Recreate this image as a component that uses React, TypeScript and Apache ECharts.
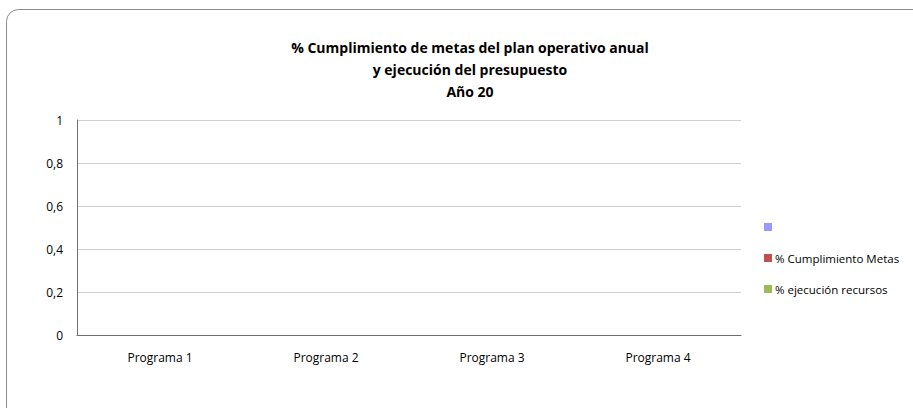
import React, { useEffect, useRef } from "react";
import * as echarts from "echarts";

const categories = ["Programa 1", "Programa 2", "Programa 3", "Programa 4"];
const seriesNames = [" ", "% Cumplimiento Metas", "% ejecución recursos"];
const seriesColors = ["#9999FF", "#C0504D", "#9BBB59"];
const serie0 = [0, 0, 0, 0];
const cumplimientoMetas = [0, 0, 0, 0];
const ejecucionRecursos = [0, 0, 0, 0];
const titleLines = [
  "% Cumplimiento de metas del plan operativo anual",
  "y ejecución del presupuesto",
  "Año 20",
];

const FONT = "'Open Sans', sans-serif";

export default function App() {
  const ref = useRef<HTMLDivElement>(null);
  useEffect(() => {
    if (!ref.current) return;
    const chart = echarts.init(ref.current, undefined, { renderer: "svg" });
    const data = [serie0, cumplimientoMetas, ejecucionRecursos];
    chart.setOption({
      animation: false,
      textStyle: { fontFamily: FONT },
      title: {
        text: titleLines.join("\n"),
        left: 465,
        textAlign: "center",
        top: 31,
        textStyle: {
          fontFamily: FONT,
          fontSize: 14,
          fontWeight: "bold",
          color: "#000",
          lineHeight: 22,
        },
      },
      graphic: [
        {
          type: "rect",
          shape: { x: 6.5, y: 9.5, width: 930, height: 420, r: 12 },
          style: { fill: "none", stroke: "#8c8c8c", lineWidth: 1 },
          silent: true,
          z: -1,
        },
      ],
      legend: {
        orient: "vertical",
        left: 764,
        top: 221,
        padding: 0,
        itemWidth: 8,
        itemHeight: 8,
        itemGap: 19,
        icon: "rect",
        textStyle: { fontFamily: FONT, fontSize: 11.5, color: "#000", padding: [0, 0, 0, -2] },
        data: seriesNames,
      },
      grid: { left: 77, right: 172, top: 120, bottom: 73, containLabel: false },
      xAxis: {
        type: "category",
        data: categories,
        axisLine: { lineStyle: { color: "#6e6e6e", width: 1 } },
        axisTick: { show: false },
        axisLabel: { color: "#000", fontSize: 12, fontFamily: FONT, margin: 16 },
      },
      yAxis: {
        type: "value",
        min: 0,
        max: 1,
        interval: 0.2,
        axisLine: { show: true, lineStyle: { color: "#6e6e6e", width: 1 } },
        axisTick: { show: false },
        axisLabel: {
          color: "#000",
          fontSize: 12,
          fontFamily: FONT,
          margin: 14,
          formatter: (v: number) => String(Math.round(v * 10) / 10).replace(".", ","),
        },
        splitLine: { lineStyle: { color: "#d0d0d0", width: 1 } },
      },
      series: seriesNames.map((name, i) => ({
        name,
        type: "bar",
        data: data[i],
        itemStyle: { color: seriesColors[i] },
      })),
    });
    return () => chart.dispose();
  }, []);
  return (
    <div
      ref={ref}
      style={{ position: "fixed", left: 0, top: 0, width: 913, height: 408, background: "#fff" }}
    />
  );
}
